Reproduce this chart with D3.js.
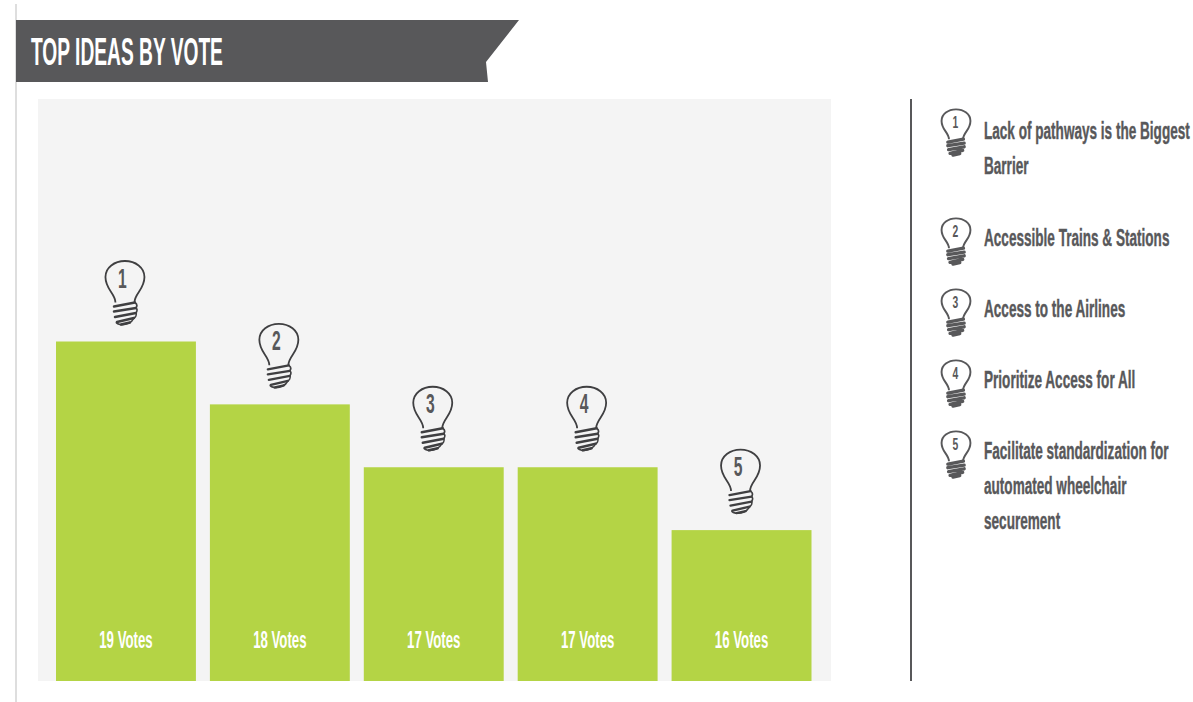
<!DOCTYPE html>
<html>
<head>
<meta charset="utf-8">
<style>
html,body{margin:0;padding:0;background:#fff}
svg{display:block}
text{font-family:"Liberation Sans",sans-serif;font-weight:700}
</style>
<script src="https://cdn.jsdelivr.net/npm/d3@7"></script>
</head>
<body>
<svg id="chart" width="1193" height="702"></svg>
<script>
const chartTitle = "TOP IDEAS BY VOTE";
const ranks = [1, 2, 3, 4, 5];
const votes = [19, 18, 17, 17, 16];
const ideas = [
  ["Lack of pathways is the Biggest", "Barrier"],
  ["Accessible Trains & Stations"],
  ["Access to the Airlines"],
  ["Prioritize Access for All"],
  ["Facilitate standardization for", "automated wheelchair", "securement"]
];

const grey = "#58585a", green = "#b4d445", panel = "#f4f4f4";
const svg = d3.select("#chart");

// Page furniture: left rule, ribbon heading, plot panel, divider
svg.append("rect").attr("x", 15).attr("y", 4).attr("width", 2).attr("height", 698).attr("fill", "#dedede");
svg.append("path").attr("d", "M16,20H519L486,62L488,82H16Z").attr("fill", grey);
svg.append("text").attr("transform", "translate(31,65) scale(0.505,1)")
  .attr("font-size", 38).attr("fill", "#fff").text(chartTitle);
svg.append("rect").attr("x", 38).attr("y", 99).attr("width", 793).attr("height", 582).attr("fill", panel);
svg.append("rect").attr("x", 910).attr("y", 99).attr("width", 2).attr("height", 582).attr("fill", grey);

const x = d3.scaleBand().domain(ranks).range([56, 811.5]).paddingInner(14 / 154);
const y = d3.scaleLinear().domain([13.6, 19]).range([681, 341.5]);

// Light bulb glyph, drawn with its top centre at the origin
function bulb(g, filledScrew, stroke) {
  g.append("path")
    .attr("d", "M-9.5,42C-9.5,33 -19.5,29 -19.5,16.5C-19.5,7 -10.5,0.5 0,0.5C10.5,0.5 19.5,7 19.5,16.5C19.5,29 9.5,33 9.5,42")
    .attr("fill", "none").attr("stroke", stroke).attr("stroke-width", filledScrew ? 2.6 : 1.8);
  g.append("path")
    .attr("d", "M-11,46L10,42 M-11,51L11,47.5 M-10,56.5L11,52.5 M-8,61.5L9,57.5 M-4,64L5,62")
    .attr("fill", "none").attr("stroke", stroke).attr("stroke-linecap", "round")
    .attr("stroke-width", filledScrew ? 4.6 : 2.4);
  if (!filledScrew) {
    g.append("path").attr("d", "M10,42C13,44 12,46 11,47.5C13,49 12,51 11,52.5C12,55 10,57 9,57.5C7,62 1,65 -5,64C-9,63 -9,62 -8,61.5")
      .attr("fill", "none").attr("stroke", stroke).attr("stroke-width", 1.6);
  }
}

// Bars
svg.append("g").selectAll("rect").data(ranks).join("rect")
  .attr("x", d => x(d))
  .attr("y", (d, i) => y(votes[i]))
  .attr("width", x.bandwidth())
  .attr("height", (d, i) => y.range()[0] - y(votes[i]))
  .attr("fill", green);

// Vote labels inside the bars
svg.append("g").selectAll("text").data(ranks).join("text")
  .attr("transform", d => `translate(${x(d) + x.bandwidth() / 2},647.5) scale(0.575,1)`)
  .attr("text-anchor", "middle").attr("font-size", 23).attr("fill", "#fff")
  .text((d, i) => `${votes[i]} Votes`);

// Numbered bulbs above the bars
ranks.forEach((r, i) => {
  const cx = x(r) + x.bandwidth() / 2 - 1;
  const g = svg.append("g").attr("transform", `translate(${cx},${y(votes[i]) - 81})`);
  bulb(g, false, "#3f3f41");
  g.append("text").attr("transform", "translate(-2.5,27) scale(0.58,1)").attr("text-anchor", "middle")
    .attr("font-size", 27).attr("fill", grey).text(r);
});

// Legend of ideas
const bulbTops = [109, 218, 289, 360, 431];
const textBaselines = [138.5, 245.5, 316.5, 387.5, 458.5];
const lineStep = 35;
ranks.forEach((r, i) => {
  const g = svg.append("g").attr("transform", `translate(956,${bulbTops[i]}) scale(0.74,0.72)`);
  bulb(g, true, grey);
  g.append("text").attr("transform", "translate(-1,26) scale(0.58,1)").attr("text-anchor", "middle")
    .attr("font-size", 24).attr("fill", grey).text(r);
  ideas[i].forEach((line, k) => {
    svg.append("text")
      .attr("transform", `translate(984,${textBaselines[i] + k * lineStep}) scale(0.59,1)`)
      .attr("font-size", 23).attr("fill", grey).attr("font-weight", 400)
      .attr("stroke", grey).attr("stroke-width", 0.4).text(line);
  });
});
</script>
</body>
</html>
